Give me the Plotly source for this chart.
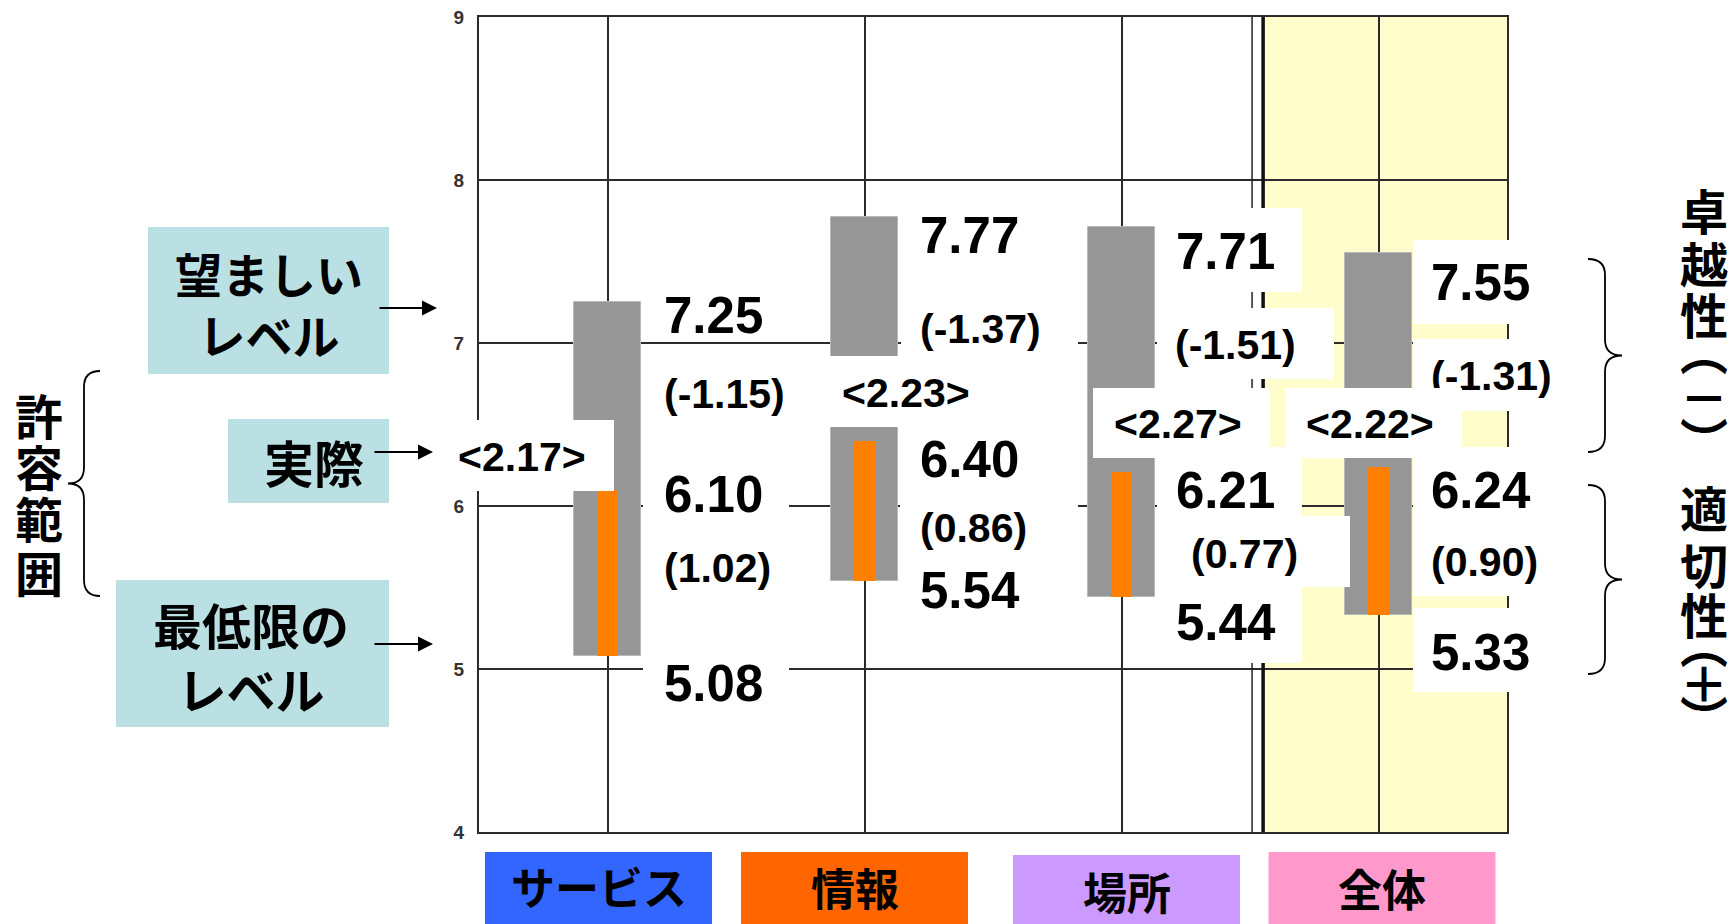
import plotly.graph_objects as go

# ---------------- data ----------------
categories = ["サービス", "情報", "場所", "全体"]
desired_level = [7.25, 7.77, 7.71, 7.55]        # 望ましいレベル
actual_level = [6.10, 6.40, 6.21, 6.24]         # 実際
minimum_level = [5.08, 5.54, 5.44, 5.33]        # 最低限のレベル
superiority_gap = [-1.15, -1.37, -1.51, -1.31]  # 卓越性 (実際 − 望ましい)
adequacy_gap = [1.02, 0.86, 0.77, 0.90]         # 適切性 (実際 − 最低限)
tolerance_zone = [2.17, 2.23, 2.27, 2.22]       # 許容範囲 (望ましい − 最低限)
y_ticks = [4, 5, 6, 7, 8, 9]

# ---------------- geometry ----------------
W, H = 1735, 924
ML, MR, MT, MB = 479, 228, 17, 92
PW, PH = W - ML - MR, H - MT - MB
X_RANGE = (-0.5, 3.5)
Y_RANGE = (4, 9)


def px_x(xd):
    return ML + (xd - X_RANGE[0]) / (X_RANGE[1] - X_RANGE[0]) * PW


def px_y(yd):
    return MT + (Y_RANGE[1] - yd) / (Y_RANGE[1] - Y_RANGE[0]) * PH


def paper_x(px):
    return (px - ML) / PW


def paper_y(py):
    return (H - MB - py) / PH


NUM_FONT = "Liberation Sans, Arial, sans-serif"
JP_FONT = "Noto Sans CJK JP, sans-serif"
GRID = "#2b2b2b"
BAR_GRAY = "#969696"
BAR_ORANGE = "#FF8000"
ZONE_YELLOW = "#FFFDCB"
TEAL = "#BBE0E3"
CAT_COLORS = ["#3366FF", "#FF6600", "#CC99FF", "#FF99CC"]

xs = list(range(len(categories)))
centers = [px_x(x) for x in xs]

fig = go.Figure()

# tolerance range (desired – minimum) in gray, actual – minimum in orange
fig.add_trace(go.Bar(
    x=xs, y=[d - m for d, m in zip(desired_level, minimum_level)], base=minimum_level,
    width=0.257, marker=dict(color=BAR_GRAY, line=dict(color="#b9b9b9", width=1)),
    hoverinfo="skip",
))
fig.add_trace(go.Bar(
    x=xs, y=[a - m for a, m in zip(actual_level, minimum_level)], base=minimum_level,
    width=0.078, marker=dict(color=BAR_ORANGE, line=dict(width=0)),
    hoverinfo="skip",
))

shapes = []
annotations = []

# overall panel (全体) background and double separator
shapes.append(dict(type="rect", xref="x", yref="y", x0=2.55, x1=3.5, y0=4, y1=9,
                   fillcolor=ZONE_YELLOW, line=dict(width=0), layer="below"))
shapes.append(dict(type="line", xref="x", yref="y", x0=2.508, x1=2.508, y0=4, y1=9,
                   line=dict(color="#222222", width=1.5), layer="above"))
shapes.append(dict(type="line", xref="x", yref="y", x0=2.551, x1=2.551, y0=4, y1=9,
                   line=dict(color="#111111", width=3.5), layer="above"))


def box(left, top, right, bottom, color="white"):
    return dict(xref="paper", yref="paper", x=paper_x(left), y=paper_y(top),
                xanchor="left", yanchor="top", width=right - left, height=bottom - top,
                text=" ", bgcolor=color, borderpad=0, borderwidth=0, showarrow=False)


def label(text, x, y, size, anchor="left", family=NUM_FONT, weight="bold", **kw):
    d = dict(xref="paper", yref="paper", x=paper_x(x), y=paper_y(y),
             xanchor=anchor, yanchor="middle", text=text, showarrow=False,
             borderpad=0, borderwidth=0,
             font=dict(family=family, size=size, color="black", weight=weight))
    d.update(kw)
    return d


# ---------------- value labels ----------------
def mid(a, b):
    return [(px_y(p) + px_y(q)) / 2 for p, q in zip(a, b)]


label_specs = [
    # (texts, reference y in px, font size, anchor, x offset, y offset, white box offsets l,t,r,b)
    ([f"{v:.2f}" for v in desired_level], [px_y(v) for v in desired_level], 51, "left",
     [56, 55, 54, 52], [13, 18, 24, 29],
     [(37, -26, 182, 22), (35, -35, 215, 35), (33, -43, 180, 41), (34, -42, 196, 42)]),
    ([f"({v:.2f})" for v in superiority_gap], mid(desired_level, actual_level), 41, "left",
     [56, 55, 53, 52], [-2, 0, -5, 16],
     [(37, -34, 187, 36), (36, -29, 213, 36), (35, -37, 212, 34), (34, -37, 196, 35)]),
    ([f"{v:.2f}" for v in actual_level], [px_y(v) for v in actual_level], 51, "left",
     [56, 55, 54, 52], [5, 19, 19, 24],
     [(35, -25, 181, 35), (35, -30, 213, 50), (35, -44, 180, 25), (34, -44, 196, 34)]),
    ([f"({v:.2f})" for v in adequacy_gap], mid(actual_level, minimum_level), 41, "left",
     [56, 55, 69, 52], [-5, 17, 19, 21],
     [(35, -28, 181, 32), (35, -18, 213, 32), (35, -38, 228, 33), (34, -37, 196, 34)]),
    ([f"{v:.2f}" for v in minimum_level], [px_y(v) for v in minimum_level], 51, "left",
     [56, 55, 54, 52], [28, 10, 25, 37],
     [(35, -39, 181, 38), (35, -26, 213, 49), (35, -42, 180, 41), (34, -44, 196, 40)]),
    ([f"&lt;{v:.2f}&gt;" for v in tolerance_zone], mid(desired_level, minimum_level), 41, "center",
     [-85.5, 41.5, 56.5, -8.5], [-22, -6, 12, -10],
     [(-162, -37, 5.5, 34), (-44, -37, 125, 34), (-28.5, -36, 148.5, 34), (-93.5, -36, 83.5, 34)]),
]

for texts, ref_y, size, anchor, dxs, dys, boxes in label_specs:
    for i, c in enumerate(centers):
        ty = ref_y[i] + dys[i]
        l, t, r, b = boxes[i]
        annotations.append(box(c + l, ty + t, c + r, ty + b))
        annotations.append(label(texts[i], c + dxs[i], ty, size, anchor=anchor))

# ---------------- category name plates ----------------
plate_dx = [-9, -10, 5, 3.5]
plate_top = [852, 852, 855, 852]
plate_text_y = [886, 887, 891, 888]
for i, c in enumerate(centers):
    cx = c + plate_dx[i]
    shapes.append(dict(type="rect", xref="paper", yref="paper",
                       x0=paper_x(cx - 113.5), x1=paper_x(cx + 113.5),
                       y0=paper_y(plate_top[i]), y1=paper_y(940),
                       fillcolor=CAT_COLORS[i], line=dict(width=0), layer="above"))
    annotations.append(label(categories[i], cx, plate_text_y[i], 44, anchor="center",
                             family=JP_FONT))

# ---------------- legend boxes on the left ----------------
shapes.append(dict(type="rect", xref="paper", yref="paper", x0=paper_x(148), x1=paper_x(389),
                   y0=paper_y(374), y1=paper_y(227), fillcolor=TEAL, line=dict(width=0), layer="above"))
shapes.append(dict(type="rect", xref="paper", yref="paper", x0=paper_x(228), x1=paper_x(389),
                   y0=paper_y(503), y1=paper_y(419), fillcolor=TEAL, line=dict(width=0), layer="above"))
shapes.append(dict(type="rect", xref="paper", yref="paper", x0=paper_x(116), x1=paper_x(389),
                   y0=paper_y(727), y1=paper_y(580), fillcolor=TEAL, line=dict(width=0), layer="above"))
annotations.append(label("望ましい<br>レベル", 269, 303, 47, anchor="center", family=JP_FONT))
annotations.append(label("実際", 314, 461, 50, anchor="center", family=JP_FONT))
annotations.append(label("最低限の<br>レベル", 251, 655, 49, anchor="center", family=JP_FONT))

for tip_x, tip_y, tail_x in [(437, 308, 378), (433, 452, 373), (433, 644, 373)]:
    annotations.append(dict(xref="paper", yref="paper", x=paper_x(tip_x), y=paper_y(tip_y),
                            axref="pixel", ayref="pixel", ax=tail_x - tip_x, ay=0,
                            text="", showarrow=True, arrowhead=2, arrowsize=1.5,
                            arrowwidth=2, arrowcolor="black", standoff=0, startstandoff=0))

for ch, cy in zip("許容範囲", [414, 465, 517, 571]):
    annotations.append(label(ch, 39, cy, 48, anchor="center", family=JP_FONT))


# ---------------- braces ----------------
def path_from(cmds):
    out = []
    for cmd in cmds:
        op, pts = cmd[0], cmd[1:]
        out.append(op + " ".join(f"{paper_x(x):.5f},{paper_y(y):.5f}" for x, y in pts))
    return " ".join(out)


def left_brace(x_tip, x_spine, x_end, top, bottom, r=16):
    midy = (top + bottom) / 2
    return path_from([
        ("M", (x_end, top)), ("Q", (x_spine, top), (x_spine, top + r)),
        ("L", (x_spine, midy - r)), ("Q", (x_spine, midy), (x_tip, midy)),
        ("Q", (x_spine, midy), (x_spine, midy + r)),
        ("L", (x_spine, bottom - r)), ("Q", (x_spine, bottom), (x_end, bottom)),
    ])


for path in [left_brace(68, 84, 100, 371, 596),
             left_brace(1622, 1605, 1588, 259, 452),
             left_brace(1622, 1605, 1588, 485, 674)]:
    shapes.append(dict(type="path", xref="paper", yref="paper", path=path,
                       line=dict(color="black", width=1.8), layer="above"))

# ---------------- vertical captions on the right ----------------
# the vertical-form brackets sit off-centre in their em box, hence the uneven spacing
for chars, ys in [(["卓", "越", "性", "︵", "－", "︶"], [209, 262, 313, 349, 395, 438]),
                  (["適", "切", "性", "︵", "＋", "︶"], [506, 563, 613, 642, 681, 716])]:
    for ch, cy in zip(chars, ys):
        annotations.append(label(ch, 1704, cy, 48, anchor="center", family=JP_FONT))

fig.update_layout(
    width=W, height=H,
    margin=dict(l=ML, r=MR, t=MT, b=MB, autoexpand=False),
    paper_bgcolor="white", plot_bgcolor="white",
    barmode="overlay", bargap=0, showlegend=False,
    shapes=shapes, annotations=annotations,
    xaxis=dict(range=list(X_RANGE), tickvals=xs, showticklabels=False, ticks="",
               showgrid=True, gridcolor=GRID, gridwidth=2, zeroline=False,
               showline=True, linecolor=GRID, linewidth=2, mirror=True, fixedrange=True),
    yaxis=dict(range=list(Y_RANGE), tickvals=y_ticks, ticks="", ticklabelstandoff=9,
               tickfont=dict(family=NUM_FONT, size=19, color="#333333", weight="bold"),
               showgrid=True, gridcolor=GRID, gridwidth=2, zeroline=False,
               showline=True, linecolor=GRID, linewidth=2, mirror=True, fixedrange=True),
)

fig.write_html("out.html")
